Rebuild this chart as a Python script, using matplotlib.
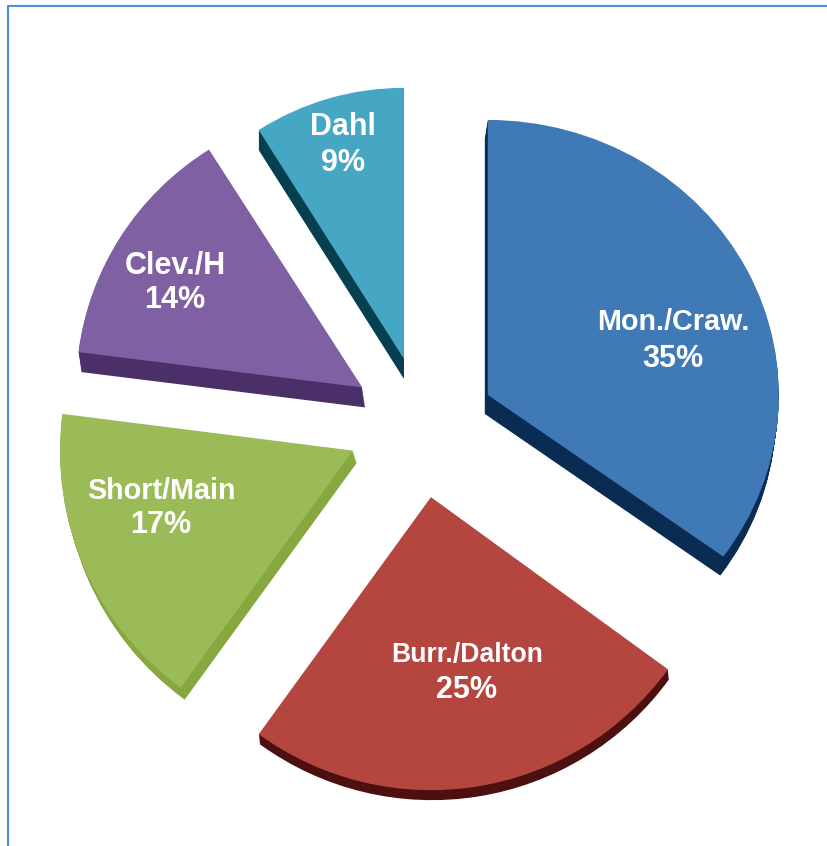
import matplotlib
matplotlib.use('Agg')
import matplotlib.pyplot as plt
from matplotlib.patches import Wedge
from matplotlib.transforms import Affine2D

plt.rcParams['font.family'] = ['Liberation Sans', 'DejaVu Sans']

# -- data
names  = ['Mon./Craw.', 'Burr./Dalton', 'Short/Main', 'Clev./H', 'Dahl']
shares = [35, 25, 17, 14, 9]

# -- style, same order as the slices
top_colors  = ['#3F79B6', '#B5463F', '#9ABB57', '#7F60A2', '#46A7C4']
side_colors = ['#0A2B52', '#4C1010', '#86A83F', '#4A2F68', '#063F50']
explode     = [75, 70, 72, 72, 72]   # pie takes these in data units, here pixels
nudge       = [(1, -1), (0, 0), (-1, 6), (3, 2), (4, 0)]
radii       = [291, 293, 293, 286, 271]
y_squash    = [0.945, 1.0, 1.0, 0.985, 1.0]
depth       = [(-3, -19), (1, -10), (4, -12), (3, -20), (0, -20)]
name_size   = [20.7, 19.2, 20.7, 22, 22]
pct_size    = 22
name_pos    = [(673, 322), (467, 655), (161, 491), (175, 265), (343, 127)]
pct_pos     = [(673, 359), (467, 690), (161, 525), (175, 300), (343, 163)]

W, H = 828, 846
fig = plt.figure(figsize=(W/100, H/100), dpi=100)
ax  = fig.add_axes([0, 0, 1, 1])

wedges, _ = ax.pie(shares, explode=explode, colors=top_colors, startangle=90,
                   counterclock=False, radius=290, center=(420, H-428), frame=True)

for i, w in enumerate(wedges):
    w.set_radius(radii[i])
    cx, cy = w.center
    cx, cy = cx+nudge[i][0], cy+nudge[i][1]
    w.set_center((cx, cy))
    squash = Affine2D().translate(-cx, -cy).scale(1, y_squash[i]).translate(cx, cy)
    w.set_transform(squash + ax.transData)
    w.set_linewidth(0)
    w.set_zorder(3)
    # side of the slice: same wedge stacked pixel by pixel below the top
    steps = max(abs(depth[i][0]), abs(depth[i][1]))
    for k in range(1, steps+1):
        dx = depth[i][0]*k/steps
        dy = depth[i][1]*k/steps
        side = Wedge((cx, cy), radii[i], w.theta1, w.theta2, color=side_colors[i],
                     linewidth=0, zorder=2)
        side.set_transform(squash + Affine2D().translate(dx, dy) + ax.transData)
        ax.add_patch(side)
    ax.text(name_pos[i][0], H-name_pos[i][1], names[i], color='white', fontsize=name_size[i],
            fontweight='bold', ha='center', va='center', zorder=4)
    ax.text(pct_pos[i][0], H-pct_pos[i][1], str(shares[i])+'%', color='white', fontsize=pct_size,
            fontweight='bold', ha='center', va='center', zorder=4)

# frame of the slide, open to the right and at the bottom
ax.plot([8, 8, W], [0, H-6, H-6], color='#4F8DE0', linewidth=1.5, zorder=1)

ax.set_xlim(0, W)
ax.set_ylim(0, H)
ax.axis('off')

fig.savefig('out.png', dpi=100, facecolor='white')
